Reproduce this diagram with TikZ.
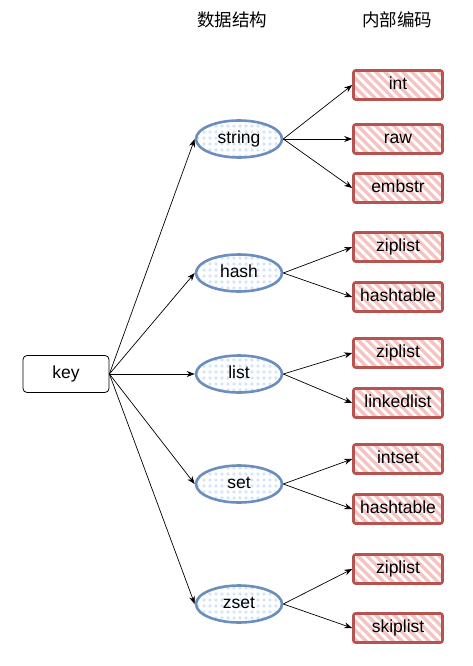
\documentclass[tikz,border=0pt]{standalone}
\usepackage{fontspec}
\setmainfont{Liberation Sans}
\newfontfamily\cjk{Noto Sans CJK SC}
\usetikzlibrary{
		positioning,
		arrows.meta,
		patterns.meta,
		shapes.geometric
	}
\tikzset{
		>=Stealth
	}
\definecolor{dsline}{HTML}{6C8EBF}
\definecolor{dsfill}{HTML}{D4E4FA}
\definecolor{encline}{HTML}{B85450}
\definecolor{encfill}{HTML}{F5C4C2}
\tikzset{
		keybox/.style={draw, rounded corners=4pt, line width=0.8pt, minimum width=86pt, minimum height=37pt, text height=12.5pt, text depth=3.5pt},
		dtype/.style={ellipse, draw=dsline, line width=2.6pt, minimum width=86pt, minimum height=37pt, text height=12.5pt, text depth=3.5pt,
			pattern={Dots[radius=1.8pt, distance=6pt]}, pattern color=dsfill},
		hatch/.style={path picture={
			\foreach \k in {-63,-54,...,63}
				\draw[encfill, line width=3.4pt] ([xshift=\k pt]path picture bounding box.center) ++(-30pt,30pt) -- ++(60pt,-60pt);
		}},
		enc/.style={rectangle, draw=encline, hatch, line width=2.6pt, rounded corners=2pt, minimum width=89pt, minimum height=29pt, text height=12.5pt, text depth=3.5pt},
		link/.style={->, line width=0.7pt, >={Stealth[length=8pt, width=6pt]}}
	}

\begin{document}
\begin{tikzpicture}[x=1pt, y=-1pt, font=\fontsize{17.5}{21}\selectfont] % one unit = one pixel of the reference
		\useasboundingbox (0,0) rectangle (472,666);
		\node (hdtype) at (232,20) {\cjk 数据结构};
		\node (henc) at (397,20) {\cjk 内部编码};
		\node[keybox] (key) at (66,374) {key};
		\foreach \n/\y in {string/139, hash/273, list/374, set/484, zset/604}{
			\node[dtype] (\n) at (239,\y) {\n};
			\draw[link] (key.east) -- (\n.west);
		}
		\foreach \n/\lbl/\y/\src in {int/int/85/string, raw/raw/139/string, embstr/embstr/188/string,
				hzip/ziplist/247/hash, hdict/hashtable/297/hash,
				lzip/ziplist/353/list, llink/linkedlist/403/list,
				sint/intset/459/set, sdict/hashtable/509/set,
				zzip/ziplist/569/zset, zskip/skiplist/628/zset}{
			\node[enc] (\n) at (398,\y) {\lbl};
			\draw[link] (\src.east) -- (\n.west);
		}
	\end{tikzpicture}
\end{document}
